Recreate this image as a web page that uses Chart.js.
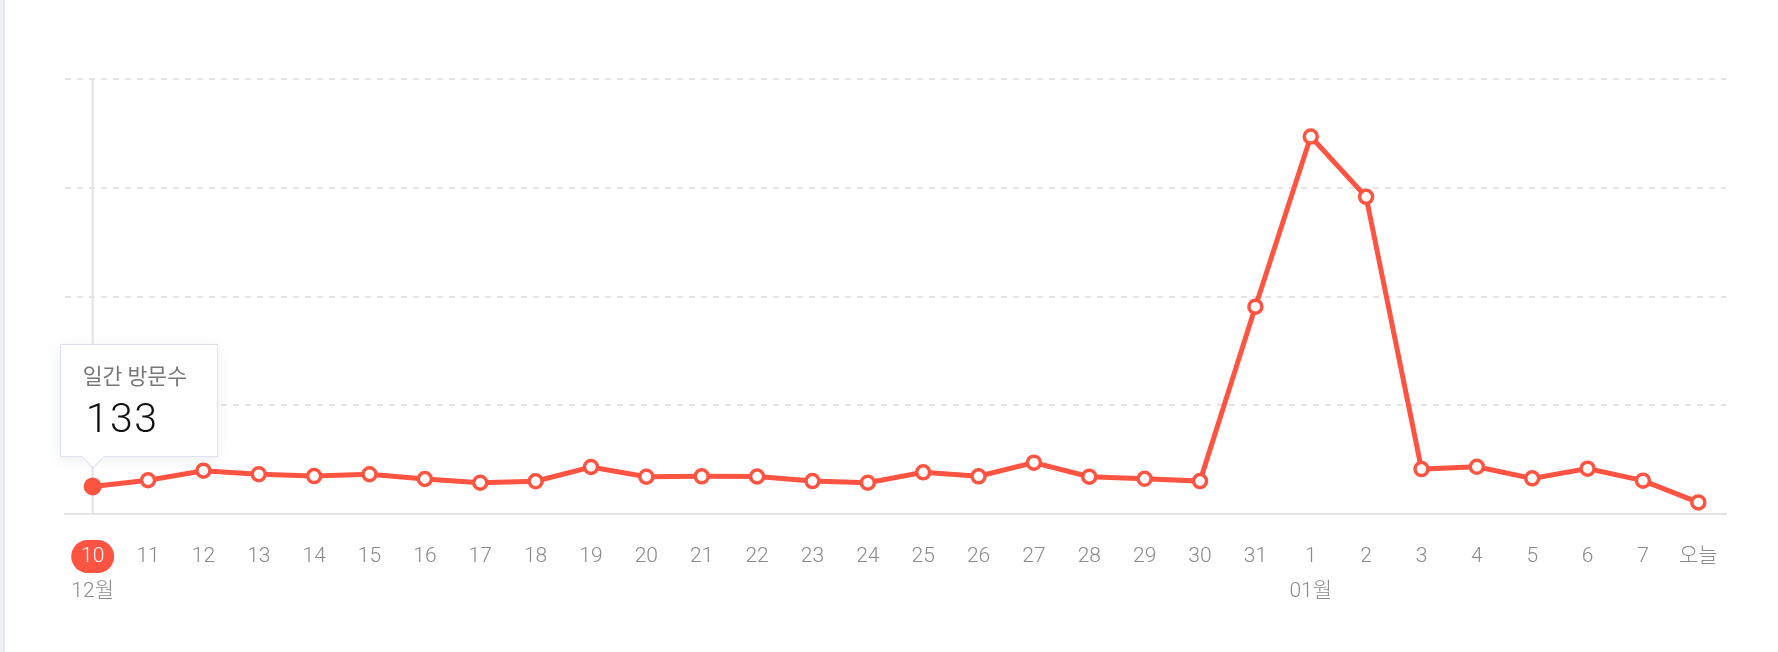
<!DOCTYPE html>
<html lang="ko">
<head>
<meta charset="utf-8">
<title>일간 방문수</title>
<script src="https://cdn.jsdelivr.net/npm/chart.js@4/dist/chart.umd.min.js"></script>
<style>
  html, body { margin: 0; padding: 0; background: #fff; }
  .edge { position: fixed; left: 0; top: 0; bottom: 0; width: 3px; background: #eef0f3; border-right: 2px solid #e3e9f2; }
  .wrap { position: relative; width: 1778px; height: 652px; }
  #tip {
    position: absolute; box-sizing: border-box; width: 158px; height: 113px;
    background: #fff; border: 1.5px solid #dde2ec;
    box-shadow: 0 3px 12px rgba(30, 40, 70, 0.08);
    font-family: Roboto, "Noto Sans CJK KR", sans-serif; opacity: 0; pointer-events: none;
  }
  #tip::before, #tip::after {
    content: ""; position: absolute; left: 21px; width: 0; height: 0;
    border-left: 11px solid transparent; border-right: 11px solid transparent;
  }
  #tip::before { bottom: -13px; border-top: 12px solid #dde2ec; }
  #tip::after { bottom: -11px; border-top: 11px solid #fff; }
  #tipTitle { position: absolute; left: 22px; top: 19px; font-size: 21.5px; line-height: 26px; color: #777; }
  #tipValue { position: absolute; left: 25px; top: 50px; font-size: 41px; line-height: 46px; color: #111; font-weight: 300; letter-spacing: 1.5px; }
</style>
</head>
<body>
<div class="edge"></div>
<div class="wrap">
  <canvas id="visitChart"></canvas>
  <div id="tip"><div id="tipTitle"></div><div id="tipValue"></div></div>
</div>
<script>
// -------------------- Data --------------------
const days = ["10", "11", "12", "13", "14", "15", "16", "17", "18", "19", "20",
  "21", "22", "23", "24", "25", "26", "27", "28", "29", "30", "31",
  "1", "2", "3", "4", "5", "6", "7", "오늘"];
const months = ["12월", "", "", "", "", "", "", "", "", "", "",
  "", "", "", "", "", "", "", "", "", "", "",
  "01월", "", "", "", "", "", "", ""];
const visits = [133, 163, 209, 192, 183, 192, 169, 151, 158, 227, 180,
  182, 181, 159, 151, 201, 182, 248, 180, 170, 159, 1001,
  1822, 1531, 217, 228, 172, 219, 161, 56];
const seriesName = "일간 방문수";
const activeIndex = 0;

const red = "#ff5442";
const gray = "#8a8a8a";
const gridGray = "#e4e4e4";

Chart.defaults.font.family = "Roboto, 'Noto Sans CJK KR', sans-serif";


// -------------------- Helpers (pill + crosshair) --------------------
const markers = {
  id: "markers",
  beforeDraw(chart) {
    const x = chart.scales.x.getPixelForValue(activeIndex);
    const ctx = chart.ctx;
    ctx.save();
    ctx.fillStyle = red;
    ctx.beginPath();
    ctx.roundRect(x - 21.5, 540, 43, 33, 16.5);
    ctx.fill();
    ctx.restore();
  },
  beforeDatasetsDraw(chart) {
    const x = chart.scales.x.getPixelForValue(activeIndex);
    const { top, bottom } = chart.chartArea;
    const ctx = chart.ctx;
    ctx.save();
    ctx.strokeStyle = gridGray;
    ctx.lineWidth = 2;
    ctx.beginPath();
    ctx.moveTo(x, top);
    ctx.lineTo(x, bottom);
    ctx.stroke();
    ctx.restore();
  }
};


// -------------------- Tooltip (html) --------------------
function htmlTooltip({ tooltip }) {
  const tip = document.getElementById("tip");
  if (tooltip.opacity === 0) {
    tip.style.opacity = 0;
    return;
  }
  document.getElementById("tipTitle").textContent = tooltip.title[0] || "";
  document.getElementById("tipValue").textContent = tooltip.dataPoints[0].formattedValue;
  tip.style.left = (tooltip.caretX - 33) + "px";
  tip.style.top = (tooltip.caretY - 29 - 113) + "px";
  tip.style.opacity = 1;
}


// -------------------- Chart --------------------
const chart = new Chart(document.getElementById("visitChart"), {
  type: "line",
  data: {
    labels: days,
    datasets: [{
      label: seriesName,
      data: visits,
      borderColor: red,
      borderWidth: 5,
      tension: 0,
      pointRadius: 6.5,
      pointBorderWidth: 3.5,
      pointBackgroundColor: "#fff",
      pointBorderColor: red,
      pointHoverRadius: 7.5,
      pointHoverBorderWidth: 3,
      pointHoverBackgroundColor: red,
      pointHoverBorderColor: red
    }]
  },
  options: {
    responsive: true,
    maintainAspectRatio: false,
    animation: false,
    events: [],
    layout: { padding: { left: 65, right: 52, top: 79, bottom: 48 } },
    scales: {
      x: {
        offset: true,
        weight: 0,
        afterFit: (s) => { s.height = 55; },
        grid: { display: false, drawTicks: false },
        border: { display: true, color: gridGray, width: 2 },
        ticks: {
          padding: 30,
          maxRotation: 0,
          autoSkip: false,
          color: (c) => (c.index === activeIndex ? "#fff" : gray),
          font: { size: 21, weight: 300 }
        }
      },
      month: {
        type: "category",
        axis: "x",
        position: "bottom",
        labels: months,
        offset: true,
        weight: 1,
        afterFit: (s) => { s.height = 35; },
        grid: { display: false, drawTicks: false },
        border: { display: false },
        ticks: {
          padding: 10,
          maxRotation: 0,
          autoSkip: false,
          color: gray,
          font: { size: 21, weight: 300 }
        }
      },
      y: {
        min: 0,
        max: 2100,
        ticks: { display: false, stepSize: 525 },
        border: { display: false, dash: [6, 6] },
        grid: { color: gridGray, lineWidth: 2, drawTicks: false }
      }
    },
    plugins: {
      legend: { display: false },
      tooltip: {
        enabled: false,
        external: htmlTooltip,
        callbacks: { title: (items) => items[0].dataset.label }
      }
    }
  },
  plugins: [markers]
});

chart.setActiveElements([{ datasetIndex: 0, index: activeIndex }]);
chart.tooltip.setActiveElements([{ datasetIndex: 0, index: activeIndex }], { x: 0, y: 0 });
chart.update();
</script>
</body>
</html>
